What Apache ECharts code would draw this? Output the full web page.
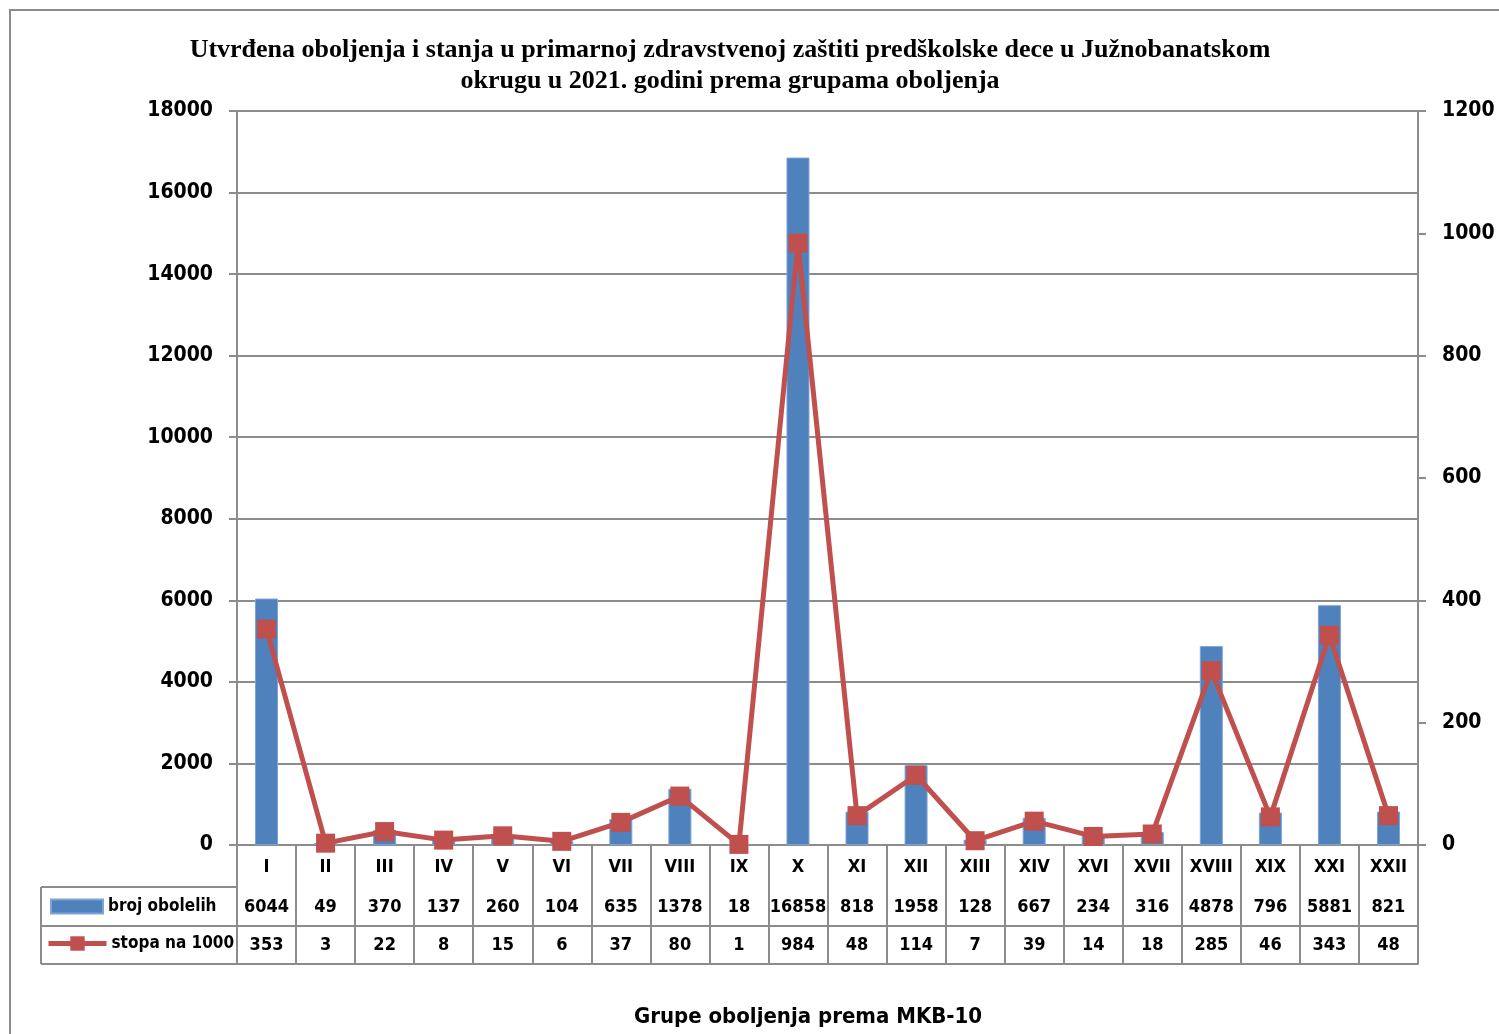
<!doctype html>
<html>
    <head>
        <meta charset="utf-8">
        <title>Utvrđena oboljenja predškolske dece</title>
        <style>
            html, body { margin: 0; padding: 0; background: #fff; overflow: hidden; }
            #main { width: 1499px; height: 1034px; }
        </style>
    </head>
    <body>
        <div id="main"></div>
        <script src="https://cdn.jsdelivr.net/npm/echarts@6/dist/echarts.min.js"></script>
        <script>
            // data
            var groups = ['I', 'II', 'III', 'IV', 'V', 'VI', 'VII', 'VIII', 'IX', 'X',
                'XI', 'XII', 'XIII', 'XIV', 'XVI', 'XVII', 'XVIII', 'XIX', 'XXI', 'XXII'];
            var brojObolelih = [6044, 49, 370, 137, 260, 104, 635, 1378, 18, 16858,
                818, 1958, 128, 667, 234, 316, 4878, 796, 5881, 821];
            var stopaNa1000 = [353, 3, 22, 8, 15, 6, 37, 80, 1, 984,
                48, 114, 7, 39, 14, 18, 285, 46, 343, 48];

            var narrow = '"Liberation Sans Narrow", "Arial Narrow", "DejaVu Sans Condensed", sans-serif';
            var gray = '#8c8c8c';
            var chart = echarts.init(document.getElementById('main'));

            // the data table under the axis is made of stacked category axes
            function tableAxis(offset, labels, margin) {
                return {
                    type: 'category',
                    data: groups,
                    position: 'bottom',
                    offset: offset,
                    axisLine: { show: true, lineStyle: { color: gray, width: 2 } },
                    axisTick: { show: false },
                    axisLabel: {
                        show: !!labels,
                        interval: 0,
                        margin: margin,
                        color: '#000',
                        fontFamily: narrow,
                        fontWeight: 'bold',
                        fontSize: 18,
                        formatter: function (v, i) { return labels ? String(labels[i]) : ''; }
                    }
                };
            }

            var yLabel = {
                margin: 24, color: '#000', fontFamily: narrow, fontWeight: 'bold', fontSize: 21,
                formatter: function (v) { return String(v); }
            };

            var legendText = { fontFamily: narrow, fontWeight: 'bold', fontSize: 17, color: '#000' };

            chart.setOption({
                animation: false,
                title: {
                    text: 'Utvrđena oboljenja i stanja u primarnoj zdravstvenoj zaštiti predškolske dece u Južnobanatskom\nokrugu u 2021. godini prema grupama oboljenja',
                    left: 725,
                    textAlign: 'center',
                    top: 30,
                    textStyle: {
                        fontFamily: '"Liberation Serif", "Times New Roman", serif',
                        fontWeight: 'bold',
                        fontSize: 26,
                        lineHeight: 31,
                        color: '#000'
                    }
                },
                legend: [{
                    data: [{ name: 'broj obolelih', icon: 'rect' }],
                    left: 50,
                    top: 898,
                    padding: 0,
                    itemWidth: 52,
                    itemHeight: 14,
                    textStyle: legendText
                }, {
                    data: ['stopa na 1000'],
                    left: 46,
                    top: 935,
                    padding: 0,
                    itemWidth: 58,
                    itemHeight: 18,
                    lineStyle: { width: 5 },
                    textStyle: legendText
                }],
                grid: { left: 237, right: 81, top: 111, bottom: 189, outerBoundsMode: 'none' },
                xAxis: [{
                    type: 'category',
                    data: groups,
                    position: 'bottom',
                    axisLine: { show: true, lineStyle: { color: gray, width: 2 } },
                    axisTick: { show: true, interval: 0, length: 119, lineStyle: { color: gray, width: 2 } },
                    axisLabel: {
                        interval: 0,
                        margin: 13,
                        color: '#000',
                        fontFamily: narrow,
                        fontWeight: 'bold',
                        fontSize: 18
                    }
                },
                    tableAxis(42, brojObolelih, 11),
                    tableAxis(81, stopaNa1000, 10),
                    tableAxis(119, null, 0)
                ],
                yAxis: [{
                    type: 'value',
                    min: 0,
                    max: 18000,
                    interval: 2000,
                    axisLine: { show: true, lineStyle: { color: gray, width: 2 } },
                    axisTick: { show: true, length: 8, lineStyle: { color: gray, width: 2 } },
                    splitLine: { show: true, lineStyle: { color: gray, width: 2 } },
                    axisLabel: yLabel
                }, {
                    type: 'value',
                    position: 'right',
                    min: 0,
                    max: 1200,
                    interval: 200,
                    axisLine: { show: true, lineStyle: { color: gray, width: 2 } },
                    axisTick: { show: true, length: 8, lineStyle: { color: gray, width: 2 } },
                    splitLine: { show: false },
                    axisLabel: yLabel
                }],
                series: [{
                    name: 'broj obolelih',
                    type: 'bar',
                    data: brojObolelih,
                    barWidth: 23,
                    itemStyle: { color: '#4f81bd', borderColor: '#7ea3d4', borderWidth: 1 }
                }, {
                    name: 'stopa na 1000',
                    type: 'line',
                    yAxisIndex: 1,
                    data: stopaNa1000,
                    symbol: 'rect',
                    symbolSize: 19,
                    lineStyle: { color: '#c0504d', width: 5 },
                    itemStyle: { color: '#c0504d' }
                }],
                graphic: [
                    // chart frame
                    { type: 'rect', shape: { x: 10, y: 10, width: 1600, height: 1100 }, style: { fill: 'none', stroke: gray, lineWidth: 2 }, silent: true },
                    // legend column of the table
                    { type: 'line', shape: { x1: 41, y1: 887, x2: 237, y2: 887 }, style: { stroke: gray, lineWidth: 2 } },
                    { type: 'line', shape: { x1: 41, y1: 926, x2: 237, y2: 926 }, style: { stroke: gray, lineWidth: 2 } },
                    { type: 'line', shape: { x1: 41, y1: 964, x2: 237, y2: 964 }, style: { stroke: gray, lineWidth: 2 } },
                    { type: 'line', shape: { x1: 41, y1: 887, x2: 41, y2: 964 }, style: { stroke: gray, lineWidth: 2 } },
                    {
                        type: 'text',
                        x: 808,
                        y: 1017,
                        style: {
                            text: 'Grupe oboljenja prema MKB-10',
                            align: 'center',
                            verticalAlign: 'middle',
                            fontFamily: narrow,
                            fontWeight: 'bold',
                            fontSize: 22,
                            fill: '#000'
                        }
                    }
                ]
            });

            window.addEventListener('resize', function () {
                chart.resize();
            });
        </script>
    </body>
</html>
